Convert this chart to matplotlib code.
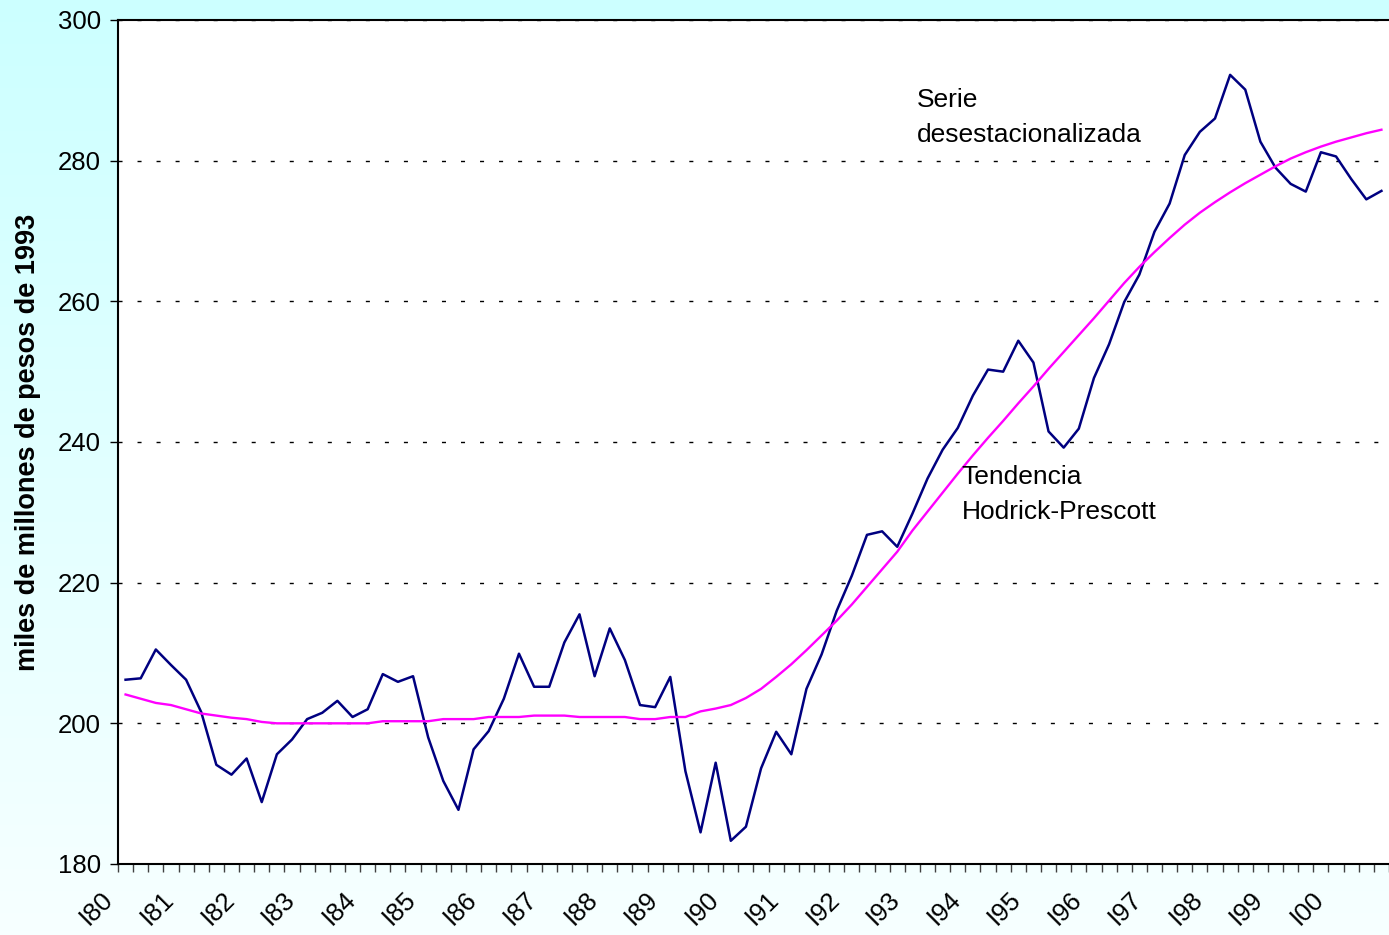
import numpy as np
import matplotlib.pyplot as plt
from matplotlib.colors import LinearSegmentedColormap

plt.rcParams['font.family'] = ['Liberation Sans', 'DejaVu Sans']

# serie trimestral desestacionalizada (I80 ... IV00), miles de millones de pesos de 1993
serie = [206.2, 206.4, 210.5, 208.3, 206.2, 201.6, 194.1, 192.7,
         195.0, 188.8, 195.6, 197.7, 200.6, 201.5, 203.2, 200.9,
         202.0, 207.0, 205.9, 206.7, 198.0, 191.8, 187.7, 196.3,
         198.9, 203.5, 209.9, 205.2, 205.2, 211.5, 215.5, 206.7,
         213.5, 209.0, 202.6, 202.3, 206.6, 193.2, 184.5, 194.4,
         183.3, 185.3, 193.6, 198.8, 195.6, 204.9, 209.8, 216.0,
         221.0, 226.8, 227.3, 225.1, 229.8, 234.8, 238.9, 242.0,
         246.6, 250.3, 250.0, 254.4, 251.3, 241.5, 239.2, 241.9,
         249.1, 253.9, 259.9, 263.8, 269.9, 273.9, 280.8, 284.1,
         286.0, 292.2, 290.1, 282.7, 279.0, 276.7, 275.6, 281.2,
         280.6, 277.4, 274.5, 275.7]

# tendencia Hodrick-Prescott
tendencia = [204.1, 203.5, 202.9, 202.6, 202.0, 201.4, 201.1, 200.8,
             200.6, 200.2, 200.0, 200.0, 200.0, 200.0, 200.0, 200.0,
             200.0, 200.3, 200.3, 200.3, 200.3, 200.6, 200.6, 200.6,
             200.9, 200.9, 200.9, 201.1, 201.1, 201.1, 200.9, 200.9,
             200.9, 200.9, 200.6, 200.6, 200.9, 200.9, 201.7, 202.1,
             202.6, 203.6, 204.9, 206.6, 208.4, 210.4, 212.5, 214.6,
             216.9, 219.4, 221.9, 224.4, 227.4, 230.1, 232.8, 235.5,
             238.1, 240.6, 243.0, 245.5, 247.9, 250.4, 252.8, 255.2,
             257.6, 260.1, 262.6, 264.9, 267.0, 269.0, 270.9, 272.6,
             274.1, 275.5, 276.8, 278.0, 279.2, 280.3, 281.2, 282.0,
             282.7, 283.3, 283.9, 284.4]

etiquetas = ["I80", "I81", "I82", "I83", "I84", "I85", "I86", "I87", "I88",
             "I89", "I90", "I91", "I92", "I93", "I94", "I95", "I96", "I97",
             "I98", "I99", "I00"]

x = np.arange(len(serie))

fig = plt.figure(figsize=(13.89, 9.35), dpi=100)

# fondo con degradado celeste
fondo = fig.add_axes([0, 0, 1, 1], zorder=0)
cmap_fondo = LinearSegmentedColormap.from_list('fondo', ['#CCFFFF', '#F7FFFF'])
fondo.imshow(np.linspace(0, 1, 256).reshape(-1, 1), aspect='auto',
             cmap=cmap_fondo, extent=[0, 1, 0, 1])
fondo.axis('off')

ax = fig.add_axes([0.08495, 0.07594, 0.91505, 0.90267], zorder=1)
ax.set_facecolor('white')

ax.plot(x, serie, color='#000080', lw=1.8)
ax.plot(x, tendencia, color='#FF00FF', lw=1.7)

ax.set_ylim(180, 300)
ax.set_xlim(-0.5, 82.57)

ax.set_yticks(np.arange(180, 301, 20))
ax.yaxis.grid(True, color='black', lw=1.0, ls=(0, (2.9, 10.8)))
ax.set_axisbelow(True)

ax.set_xticks(np.arange(-0.5, 80, 4))
ax.set_xticks(np.arange(-0.5, 84, 1), minor=True)
ax.set_xticklabels(etiquetas, rotation=45, ha='right', va='top', fontsize=18.5)

ax.tick_params(axis='y', direction='out', length=5.5, width=1, labelsize=18.5, pad=7)
ax.tick_params(axis='x', which='both', direction='out', length=5.8, width=1,
               color='#404040', pad=11)

for lado in ['left', 'bottom', 'top']:
    ax.spines[lado].set_linewidth(1.5)
    ax.spines[lado].set_color('black')
ax.spines['right'].set_visible(False)

ax.set_ylabel('miles de millones de pesos de 1993', fontsize=19.5, fontweight='bold')
ax.yaxis.set_label_coords(-0.0606, 0.5)

ax.text(52.3, 290.3, 'Serie\ndesestacionalizada', fontsize=19,
        ha='left', va='top', linespacing=1.55)
ax.text(55.25, 236.7, 'Tendencia\nHodrick-Prescott', fontsize=19,
        ha='left', va='top', linespacing=1.55)

plt.savefig('out.png', dpi=100)
